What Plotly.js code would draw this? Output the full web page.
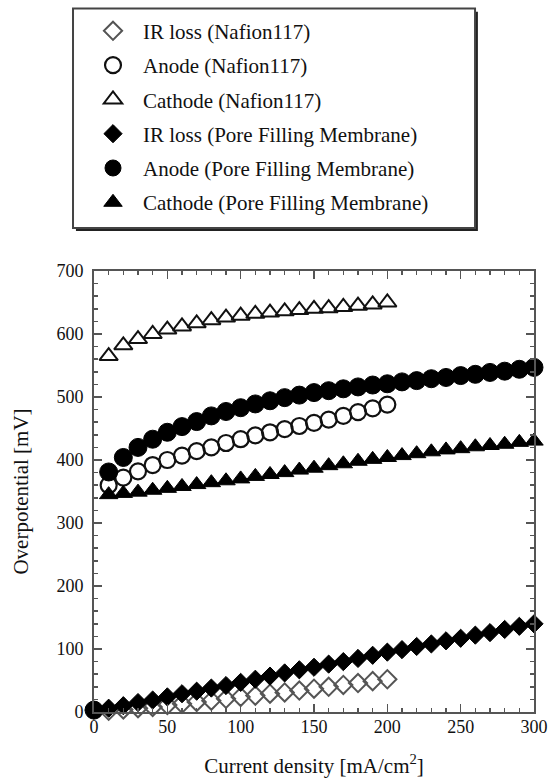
<!DOCTYPE html>
<html>
<head>
<meta charset="utf-8">
<script src="https://cdn.plot.ly/plotly-3.0.1.min.js"></script>
<style>html,body{margin:0;padding:0;background:#fff;}#chart{width:552px;height:778px;}</style>
</head>
<body>
<div id="chart"></div>
<script>
// ---- data ----
const seriesNames = [
  "IR loss (Nafion117)",
  "Anode (Nafion117)",
  "Cathode (Nafion117)",
  "IR loss (Pore Filling Membrane)",
  "Anode (Pore Filling Membrane)",
  "Cathode (Pore Filling Membrane)"
];
const currentNafion = [10,20,30,40,50,60,70,80,90,100,110,120,130,140,150,160,170,180,190,200];
const irNafion      = [2,4,6,8,11,13,16,18,21,24,26,29,31,34,37,40,43,46,49,52];
const anodeNafion   = [360,372,382,392,400,407,414,420,427,433,439,444,449,454,459,464,470,476,482,488];
const cathodeNafion = [565,582,592,600,607,612,617,622,626,629,632,634,636,638,640,641,643,645,647,650];

const currentPFM = [0,10,20,30,40,50,60,70,80,90,100,110,120,130,140,150,160,170,180,190,200,210,220,230,240,250,260,270,280,290,300];
const irPFM      = [3,6,10,15,19,24,29,33,38,42,47,52,57,62,67,71,76,80,85,90,95,99,104,108,113,117,122,126,131,136,140];
const anodePFM   = [3,381,404,420,433,444,453,461,470,477,483,489,494,499,503,507,510,513,516,519,521,524,526,529,531,534,536,539,541,544,547];
const currentPFMCathode = [10,20,30,40,50,60,70,80,90,100,110,120,130,140,150,160,170,180,190,200,210,220,230,240,250,260,270,280,290,300];
const cathodePFM = [345,347,349,352,355,358,361,364,367,370,374,377,380,384,387,391,394,398,401,404,407,410,413,416,418,421,423,425,428,430];

const xTitle = "Current density [mA/cm<sup>2</sup>]";
const yTitle = "Overpotential [mV]";

// ---- traces ----
const serif = "Liberation Serif, Times New Roman, serif";
function tr(x, y, name, marker, grp) {
  return {x: x, y: y, name: name, type: "scatter", mode: "markers",
          marker: marker, cliponaxis: false, legendgroup: grp};
}
const traces = [
  tr(currentNafion, irNafion, seriesNames[0],
     {symbol: "diamond-open", size: 14, color: "#555", line: {width: 2, color: "#555"}}, "a"),
  tr(currentNafion, anodeNafion, seriesNames[1],
     {symbol: "circle-open", size: 16, color: "#111", line: {width: 2.2, color: "#111"}}, "b"),
  tr(currentNafion, cathodeNafion, seriesNames[2],
     {symbol: "triangle-up-open", size: 16, color: "#111", line: {width: 2, color: "#111"}}, "c"),
  tr(currentPFM, irPFM, seriesNames[3],
     {symbol: "diamond", size: 14, color: "#000", line: {width: 1, color: "#000"}}, "d"),
  tr(currentPFM, anodePFM, seriesNames[4],
     {symbol: "circle", size: 18, color: "#000", line: {width: 1, color: "#000"}}, "e"),
  tr(currentPFMCathode, cathodePFM, seriesNames[5],
     {symbol: "triangle-up", size: 16, color: "#000", line: {width: 1, color: "#000"}}, "f")
];

const axisCommon = {
  showline: true, linecolor: "#555", linewidth: 2, mirror: "ticks",
  ticks: "inside", ticklen: 8, tickwidth: 1.5, tickcolor: "#555",
  showgrid: false, zeroline: false,
  tickfont: {family: serif, size: 18, color: "#111"}
};

const layout = {
  width: 552, height: 778,
  paper_bgcolor: "#fff", plot_bgcolor: "#fff",
  margin: {l: 94, r: 18, t: 270, b: 66},
  font: {family: serif, color: "#111"},
  xaxis: Object.assign({}, axisCommon, {
    range: [0, 300], dtick: 50, tick0: 0, ticklabelstandoff: -3,
    minor: {dtick: 10, ticks: "inside", ticklen: 4, tickwidth: 1.5, tickcolor: "#555"},
    title: {text: xTitle, font: {family: serif, size: 21, color: "#111"}, standoff: 24}
  }),
  yaxis: Object.assign({}, axisCommon, {
    range: [0, 700], dtick: 100, tick0: 0, ticklabelstandoff: 5,
    minor: {dtick: 20, ticks: "inside", ticklen: 4, tickwidth: 1.5, tickcolor: "#555"},
    title: {text: yTitle, font: {family: serif, size: 21, color: "#111"}, standoff: 22}
  }),
  showlegend: true,
  legend: {
    x: -0.025, y: 1.5868, xanchor: "left", yanchor: "top",
    bgcolor: "rgba(0,0,0,0)", borderwidth: 0,
    font: {family: serif, size: 21, color: "#111"},
    itemwidth: 50, traceorder: "grouped", tracegroupgap: 4
  },
  shapes: [
    {type: "rect", xref: "paper", yref: "paper", layer: "below",
     x0: -0.0410, x1: 0.8725, y0: 1.0905, y1: 1.588,
     fillcolor: "#222", line: {width: 0}},
    {type: "rect", xref: "paper", yref: "paper", layer: "below",
     x0: -0.0477, x1: 0.866, y0: 1.0973, y1: 1.595,
     fillcolor: "#fff", line: {width: 2, color: "#444"}}
  ]
};

Plotly.newPlot("chart", traces, layout, {displayModeBar: false, staticPlot: true});
</script>
</body>
</html>
